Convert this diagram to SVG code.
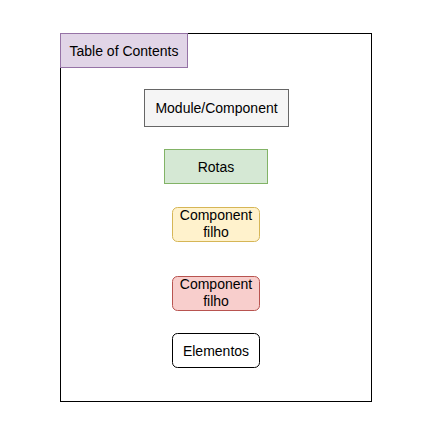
<svg xmlns="http://www.w3.org/2000/svg" width="443" height="435" viewBox="0 0 443 435">
<style>
text{font-family:"Liberation Sans",Arial,sans-serif;font-size:14px;fill:#000;text-anchor:middle}
rect{stroke-width:1}
</style>
<rect width="443" height="435" fill="#fff"/>
<g id="frame"><rect x="60.5" y="33.5" width="311" height="368" fill="none" stroke="#000"/></g>
<g id="toc"><rect x="60.5" y="33.5" width="127" height="34" fill="#e1d5e7" stroke="#9673a6"/><text x="124" y="55.5">Table of Contents</text></g>
<g id="module"><rect x="144.5" y="89.5" width="144" height="37" fill="#f5f5f5" stroke="#666666"/><text x="216.5" y="113">Module/Component</text></g>
<g id="rotas"><rect x="164.5" y="149.5" width="103" height="34" fill="#d5e8d4" stroke="#82b366"/><text x="216" y="171.5">Rotas</text></g>
<g id="filho1"><rect x="172.5" y="207.5" width="87" height="34" rx="5" fill="#fff2cc" stroke="#d6b656"/><text x="216" y="220">Component</text><text x="216" y="237">filho</text></g>
<g id="filho2"><rect x="172.5" y="276.5" width="87" height="34" rx="5" fill="#f8cecc" stroke="#b85450"/><text x="216" y="289">Component</text><text x="216" y="306">filho</text></g>
<g id="elementos"><rect x="172.5" y="333.5" width="87" height="34" rx="5" fill="#fff" stroke="#000"/><text x="216" y="355.5">Elementos</text></g>
<g id="connectors"/>
</svg>
